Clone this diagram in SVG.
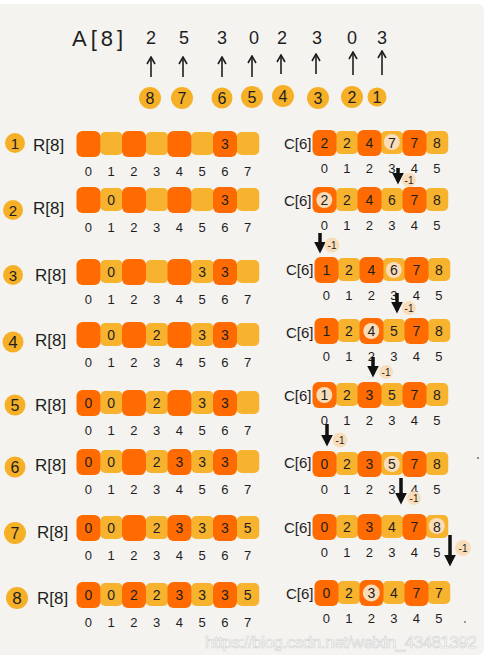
<svg xmlns="http://www.w3.org/2000/svg" xmlns:xlink="http://www.w3.org/1999/xlink" width="486" height="661" viewBox="0 0 486 661">
<style>
.bg{fill:#F4F3EF}
.d{fill:#FF6B00}
.l{fill:#F7B22E}
.c{fill:#F5B027}
.hl{fill:#F9DDBB}
.t{font-family:"Liberation Sans",Arial,sans-serif;fill:#1e1e1e;text-anchor:middle}
.n{font-size:14px}
.ix{font-size:13px}
.lab{font-family:"Liberation Sans",Arial,sans-serif;fill:#1e1e1e;font-size:17px}
.cl{font-family:"Liberation Sans",Arial,sans-serif;fill:#1e1e1e;font-size:15px}
.m1{font-family:"Liberation Sans",Arial,sans-serif;fill:#1e1e1e;font-size:10px;text-anchor:middle}
.up{stroke:#1e1e1e;stroke-width:1.6;fill:none}
.dn{stroke:#111;stroke-width:3.5;fill:none}
</style>
<defs>
<marker id="ah" viewBox="0 0 10 10" refX="9" refY="5" markerWidth="10" markerHeight="10" markerUnits="userSpaceOnUse" orient="auto">
<path d="M2,1 L9,5 L2,9" fill="none" stroke="#1e1e1e" stroke-width="1.6"/>
</marker>
<marker id="bh" viewBox="0 0 10 10" refX="7" refY="5" markerWidth="12" markerHeight="12" markerUnits="userSpaceOnUse" orient="auto">
<path d="M0,0 L10,5 L0,10 z" fill="#111"/>
</marker>
<g id="rb">
<rect class="l" x="100.25" y="-12" width="22.5" height="23" rx="5"/>
<rect class="l" x="145.75" y="-12" width="22.5" height="23" rx="5"/>
<rect class="l" x="191.25" y="-12" width="22.5" height="23" rx="5"/>
<rect class="l" x="236.75" y="-12" width="22.5" height="23" rx="5"/>
<rect class="d" x="76.5" y="-13" width="24" height="26" rx="6"/>
<rect class="d" x="122" y="-13" width="24" height="26" rx="6"/>
<rect class="d" x="167.5" y="-13" width="24" height="26" rx="6"/>
<rect class="d" x="213" y="-13" width="24" height="26" rx="6"/>
</g>
<g id="ri" class="t ix">
<text x="88.4" y="32">0</text><text x="111.1" y="32">1</text><text x="133.9" y="32">2</text><text x="156.6" y="32">3</text><text x="179.4" y="32">4</text><text x="202.1" y="32">5</text><text x="224.9" y="32">6</text><text x="247.6" y="32">7</text>
</g>
<g id="cb">
<rect class="l" x="335.75" y="-12" width="22.5" height="23" rx="5"/>
<rect class="l" x="380.75" y="-12" width="22.5" height="23" rx="5"/>
<rect class="l" x="425.75" y="-12" width="22.5" height="23" rx="5"/>
<rect class="d" x="312.5" y="-13" width="24" height="26" rx="6"/>
<rect class="d" x="357.5" y="-13" width="24" height="26" rx="6"/>
<rect class="d" x="402.5" y="-13" width="24" height="26" rx="6"/>
</g>
<g id="ci" class="t ix">
<text x="324.3" y="30">0</text><text x="346.8" y="30">1</text><text x="369.3" y="30">2</text><text x="391.8" y="30">3</text><text x="414.3" y="30">4</text><text x="436.8" y="30">5</text>
</g>
</defs>

<rect x="0" y="0" width="486" height="661" fill="#ffffff"/>
<rect class="bg" x="-8" y="4" width="492" height="651" rx="6"/>

<g id="arrayA">
<text x="72" y="46" style="font-family:'Liberation Sans',Arial,sans-serif;font-size:22px;letter-spacing:4px;fill:#1e1e1e">A[8]</text>
<g class="t" font-size="18">
<text x="151" y="44">2</text><text x="184" y="44">5</text><text x="222" y="44">3</text><text x="254" y="44">0</text><text x="282" y="44">2</text><text x="317" y="44">3</text><text x="352" y="44">0</text><text x="382" y="44">3</text>
</g>
</g>
<g id="order">
<circle class="c" cx="150" cy="98" r="11"/><circle class="c" cx="182" cy="98" r="11"/><circle class="c" cx="222" cy="98" r="10.5"/><circle class="c" cx="252" cy="97" r="11"/><circle class="c" cx="283" cy="96" r="11"/><circle class="c" cx="318" cy="98" r="11"/><circle class="c" cx="352" cy="97" r="11"/><circle class="c" cx="377" cy="97" r="9.5"/>
<g class="t" font-size="16">
<text x="150" y="104">8</text><text x="182" y="104">7</text><text x="222" y="104">6</text><text x="252" y="103">5</text><text x="283" y="102">4</text><text x="318" y="104">3</text><text x="352" y="103">2</text><text x="377" y="103">1</text>
</g>
</g>

<g id="step1">
<circle class="c" cx="15" cy="143" r="10"/><text class="t" x="15" y="149" font-size="15">1</text>
<text class="lab" x="33" y="151">R[8]</text>
<use href="#rb" y="144"/><use href="#ri" y="144"/>
<text class="t n" x="224.9" y="149">3</text>
<use href="#cb" y="143"/><use href="#ci" y="143"/>
<text class="cl" x="284" y="149">C[6]</text>
<circle class="hl" cx="391.8" cy="142" r="8"/>
<g class="t n"><text x="324.3" y="148">2</text><text x="346.8" y="148">2</text><text x="369.3" y="148">4</text><text x="391.8" y="148">7</text><text x="414.3" y="148">7</text><text x="436.8" y="148">8</text></g>
</g>

<g id="step2">
<circle class="c" cx="13" cy="210" r="10"/><text class="t" x="13" y="216" font-size="15">2</text>
<text class="lab" x="33" y="214">R[8]</text>
<use href="#rb" y="200"/><use href="#ri" y="200"/>
<g class="t n"><text x="111.1" y="205">0</text><text x="224.9" y="205">3</text></g>
<use href="#cb" y="200"/><use href="#ci" y="200"/>
<text class="cl" x="284" y="206">C[6]</text>
<circle class="hl" cx="324.3" cy="200" r="8"/>
<g class="t n"><text x="324.3" y="205">2</text><text x="346.8" y="205">2</text><text x="369.3" y="205">4</text><text x="391.8" y="205">6</text><text x="414.3" y="205">7</text><text x="436.8" y="205">8</text></g>
</g>

<g id="step3">
<circle class="c" cx="13" cy="275" r="10"/><text class="t" x="13" y="281" font-size="15">3</text>
<text class="lab" x="35" y="281">R[8]</text>
<use href="#rb" y="272"/><use href="#ri" y="272"/>
<g class="t n"><text x="111.1" y="277">0</text><text x="202.1" y="277">3</text><text x="224.9" y="277">3</text></g>
<use href="#cb" x="2" y="270"/><use href="#ci" x="2" y="270"/>
<text class="cl" x="286" y="275">C[6]</text>
<circle class="hl" cx="393.8" cy="270" r="8"/>
<g class="t n"><text x="326.3" y="275">1</text><text x="348.8" y="275">2</text><text x="371.3" y="275">4</text><text x="393.8" y="275">6</text><text x="416.3" y="275">7</text><text x="438.8" y="275">8</text></g>
</g>

<g id="step4">
<circle class="c" cx="13" cy="342" r="10.5"/><text class="t" x="13" y="348" font-size="17">4</text>
<text class="lab" x="35" y="346">R[8]</text>
<use href="#rb" y="335"/><use href="#ri" y="335"/>
<g class="t n"><text x="111.1" y="340">0</text><text x="156.6" y="340">2</text><text x="202.1" y="340">3</text><text x="224.9" y="340">3</text></g>
<use href="#cb" x="2" y="331"/><use href="#ci" x="2" y="331"/>
<text class="cl" x="286" y="338">C[6]</text>
<circle class="hl" cx="371.3" cy="331" r="8"/>
<g class="t n"><text x="326.3" y="336">1</text><text x="348.8" y="336">2</text><text x="371.3" y="336">4</text><text x="393.8" y="336">5</text><text x="416.3" y="336">7</text><text x="438.8" y="336">8</text></g>
</g>

<g id="step5">
<circle class="c" cx="15" cy="405" r="10.5"/><text class="t" x="15" y="411" font-size="16">5</text>
<text class="lab" x="35" y="411">R[8]</text>
<use href="#rb" y="403"/><use href="#ri" y="403"/>
<g class="t n"><text x="88.4" y="408">0</text><text x="111.1" y="408">0</text><text x="156.6" y="408">2</text><text x="202.1" y="408">3</text><text x="224.9" y="408">3</text></g>
<use href="#cb" y="395"/><use href="#ci" y="395"/>
<text class="cl" x="284" y="401">C[6]</text>
<circle class="hl" cx="324.3" cy="395" r="8"/>
<g class="t n"><text x="324.3" y="400">1</text><text x="346.8" y="400">2</text><text x="369.3" y="400">3</text><text x="391.8" y="400">5</text><text x="414.3" y="400">7</text><text x="436.8" y="400">8</text></g>
</g>

<g id="step6">
<circle class="c" cx="15" cy="467" r="10.5"/><text class="t" x="15" y="473" font-size="16">6</text>
<text class="lab" x="35" y="471">R[8]</text>
<use href="#rb" y="462"/><use href="#ri" y="462"/>
<g class="t n"><text x="88.4" y="467">0</text><text x="111.1" y="467">0</text><text x="156.6" y="467">2</text><text x="179.4" y="467">3</text><text x="202.1" y="467">3</text><text x="224.9" y="467">3</text></g>
<use href="#cb" y="464"/><use href="#ci" y="464"/>
<text class="cl" x="284" y="468">C[6]</text>
<circle class="hl" cx="391.8" cy="464" r="8"/>
<g class="t n"><text x="324.3" y="469">0</text><text x="346.8" y="469">2</text><text x="369.3" y="469">3</text><text x="391.8" y="469">5</text><text x="414.3" y="469">7</text><text x="436.8" y="469">8</text></g>
</g>

<g id="step7">
<circle class="c" cx="15" cy="533" r="11"/><text class="t" x="15" y="539" font-size="16">7</text>
<text class="lab" x="37" y="538">R[8]</text>
<use href="#rb" y="528"/><use href="#ri" y="528"/>
<g class="t n"><text x="88.4" y="533">0</text><text x="111.1" y="533">0</text><text x="156.6" y="533">2</text><text x="179.4" y="533">3</text><text x="202.1" y="533">3</text><text x="224.9" y="533">3</text><text x="247.6" y="533">5</text></g>
<use href="#cb" y="527"/><use href="#ci" y="527"/>
<text class="cl" x="284" y="533">C[6]</text>
<circle class="hl" cx="436.8" cy="526" r="8"/>
<g class="t n"><text x="324.3" y="532">0</text><text x="346.8" y="532">2</text><text x="369.3" y="532">3</text><text x="391.8" y="532">4</text><text x="414.3" y="532">7</text><text x="436.8" y="532">8</text></g>
</g>

<g id="step8">
<circle class="c" cx="17" cy="598" r="11"/><text class="t" x="17" y="604" font-size="17">8</text>
<text class="lab" x="37" y="604">R[8]</text>
<use href="#rb" y="595"/><use href="#ri" y="595"/>
<g class="t n"><text x="88.4" y="600">0</text><text x="111.1" y="600">0</text><text x="133.9" y="600">2</text><text x="156.6" y="600">2</text><text x="179.4" y="600">3</text><text x="202.1" y="600">3</text><text x="224.9" y="600">3</text><text x="247.6" y="600">5</text></g>
<use href="#cb" x="2" y="593"/><use href="#ci" x="2" y="593"/>
<text class="cl" x="286" y="599">C[6]</text>
<circle class="hl" cx="371.3" cy="593" r="8.5"/>
<g class="t n"><text x="326.3" y="598">0</text><text x="348.8" y="598">2</text><text x="371.3" y="598">3</text><text x="393.8" y="598">4</text><text x="416.3" y="598">7</text><text x="438.8" y="598">7</text></g>
</g>

<g id="connectors">
<g class="up" marker-end="url(#ah)">
<path d="M151,77 V57"/><path d="M183,77 V57"/><path d="M222,77 V57"/><path d="M252,77 V56"/><path d="M281,74 V55"/><path d="M316,74 V54"/><path d="M353,75 V52"/><path d="M382,75 V51"/>
</g>
<g class="dn" marker-end="url(#bh)">
<path d="M398,168 V181"/>
<path d="M320,233 V250"/>
<path d="M397,293 V310"/>
<path d="M373,357 V374"/>
<path d="M327,424 V443"/>
<path d="M401,478 V501"/>
<path d="M450,535 V563"/>
</g>
<g class="hl">
<circle cx="409" cy="180" r="7"/><circle cx="332" cy="245" r="7.5"/><circle cx="409" cy="308" r="7"/><circle cx="386" cy="372" r="7"/><circle cx="340" cy="440" r="7.5"/><circle cx="414" cy="498" r="7"/><circle cx="463" cy="548" r="8"/>
</g>
<g class="m1">
<text x="409" y="184">-1</text><text x="332" y="249">-1</text><text x="409" y="312">-1</text><text x="386" y="376">-1</text><text x="340" y="444">-1</text><text x="414" y="502">-1</text><text x="463" y="552">-1</text>
</g>
</g>

<circle cx="478" cy="458" r="0.9" fill="#555"/>
<circle cx="465" cy="622" r="0.9" fill="#777"/>
<text x="205" y="648" font-family="Liberation Sans,Arial,sans-serif" font-size="17" textLength="272" fill="#ffffff" stroke="#d0d0d0" stroke-width="0.6">https://blog.csdn.net/weixin_43481392</text>
</svg>
